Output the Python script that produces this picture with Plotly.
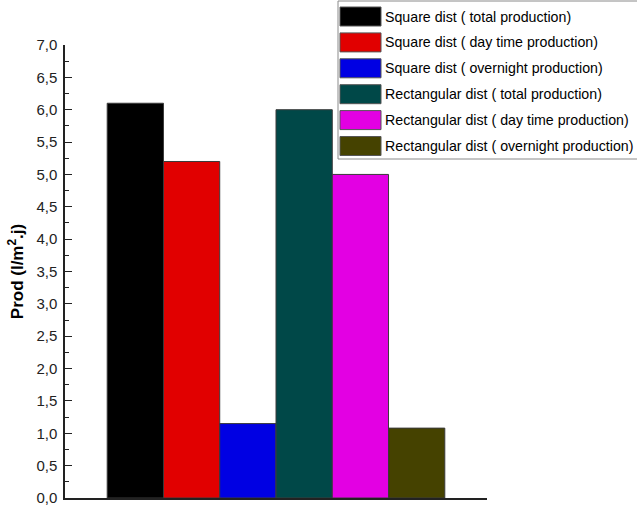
import plotly.graph_objects as go

# ---- data ----
series_names = [
    "Square dist ( total production)",
    "Square dist ( day time production)",
    "Square dist ( overnight production)",
    "Rectangular dist ( total production)",
    "Rectangular dist ( day time production)",
    "Rectangular dist ( overnight production)",
]
series_values = [6.1, 5.2, 1.15, 6.0, 5.0, 1.08]
series_colors = ["#000000", "#e10000", "#0000e3", "#004848", "#e300e3", "#454200"]
category = ["Distribution"]
y_tick_vals = [0, 0.5, 1, 1.5, 2, 2.5, 3, 3.5, 4, 4.5, 5, 5.5, 6, 6.5, 7]

W, H = 637, 508
L, R, T, B = 65, 150, 45, 10
pw, ph = W - L - R, H - T - B

def px_x(x):
    return (x - L) / pw

def px_y(y):
    return (H - B - y) / ph

fig = go.Figure()
for name, val, col in zip(series_names, series_values, series_colors):
    fig.add_trace(go.Bar(
        x=category, y=[val], name=name,
        marker=dict(color=col, line=dict(color="#3a3a3a", width=1)),
        showlegend=False,
    ))

font_family = "Liberation Sans, Arial"

# manual legend (large swatches like the original)
shapes = [dict(type="rect", xref="paper", yref="paper",
               x0=px_x(338), x1=px_x(640), y0=px_y(159), y1=px_y(1),
               line=dict(color="#8a8a8a", width=1), fillcolor="white", layer="above")]
annotations = []
for i, (name, col) in enumerate(zip(series_names, series_colors)):
    top = 7 + i * 25.9
    shapes.append(dict(type="rect", xref="paper", yref="paper",
                       x0=px_x(340), x1=px_x(381), y0=px_y(top + 19), y1=px_y(top),
                       fillcolor=col, line=dict(color="#555555", width=1), layer="above"))
    annotations.append(dict(xref="paper", yref="paper", x=px_x(383), y=px_y(top + 9.5),
                            text=name, showarrow=False, xanchor="left", yanchor="middle",
                            font=dict(family=font_family, size=14.2, color="#000000")))

fig.update_layout(
    width=W, height=H,
    margin=dict(l=L, r=R, t=T, b=B, autoexpand=False),
    paper_bgcolor="white", plot_bgcolor="white",
    barmode="group", bargap=0.2, bargroupgap=0,
    separators=", ",
    showlegend=False,
    shapes=shapes, annotations=annotations,
    font=dict(family=font_family, color="#000000"),
    xaxis=dict(showline=True, linecolor="#222222", linewidth=1.5, ticks="",
               showticklabels=False, showgrid=False, zeroline=False,
               range=[-0.5, 0.5], fixedrange=True),
    yaxis=dict(range=[0, 7], tickvals=y_tick_vals, tickformat=".1f",
               showline=True, linecolor="#222222", linewidth=1.5,
               ticks="inside", ticklen=7, tickwidth=1.3, tickcolor="#222222",
               minor=dict(ticks="inside", ticklen=4, tickwidth=1.2, tickcolor="#222222", dtick=0.25),
               showgrid=False, zeroline=False, ticklabelstandoff=3,
               tickfont=dict(family=font_family, size=15, color="#222222"),
               title=dict(text="<b>Prod (l/m<sup>2</sup>.j)</b>", standoff=8,
                          font=dict(family="Liberation Sans, Arial", size=17, color="#000000"))),
)

fig.write_html("out.html")
